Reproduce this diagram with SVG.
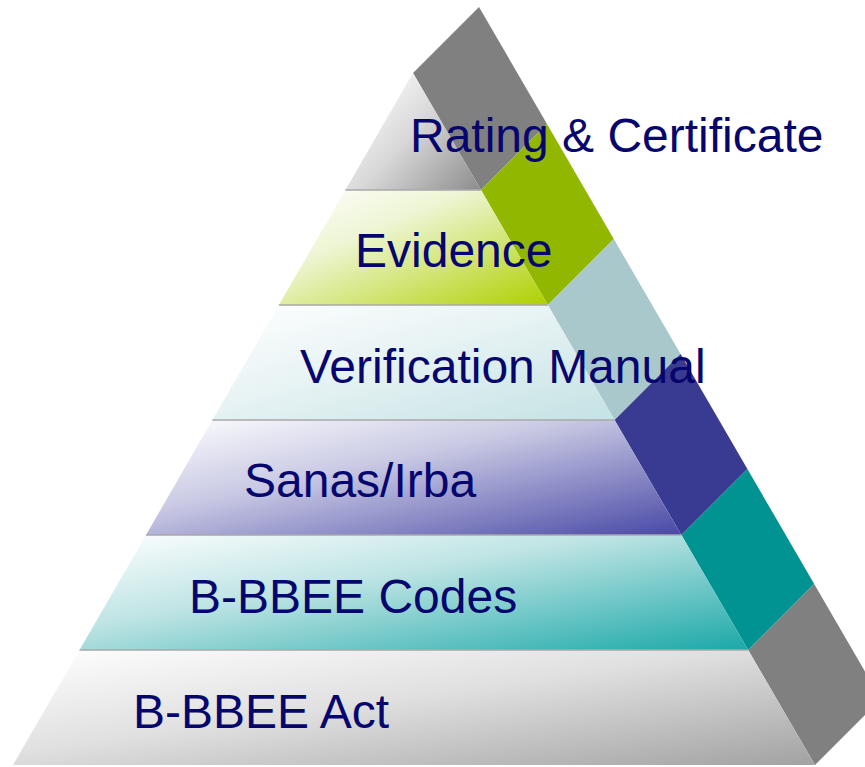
<svg xmlns="http://www.w3.org/2000/svg" width="865" height="767" viewBox="0 0 865 767">
<defs>
<style>
.lbl{font-family:"Liberation Sans",Arial,sans-serif;font-size:48px;fill:#06066e}
.sep{stroke:#a8a8a8;stroke-width:1.5;fill:none}
</style>
<linearGradient id="g1" x1="0" y1="0.2" x2="1" y2="1"><stop offset="0" stop-color="#ffffff"/><stop offset="0.45" stop-color="#d8d8d8"/><stop offset="1" stop-color="#8c8c8c"/></linearGradient>
<linearGradient id="g2" x1="0" y1="0" x2="1" y2="1"><stop offset="0" stop-color="#ffffff"/><stop offset="0.35" stop-color="#eef5d4"/><stop offset="1" stop-color="#aed000"/></linearGradient>
<linearGradient id="g3" x1="0" y1="0" x2="1" y2="1"><stop offset="0" stop-color="#ffffff"/><stop offset="0.4" stop-color="#eaf4f5"/><stop offset="1" stop-color="#c4e2e4"/></linearGradient>
<linearGradient id="g4" x1="0" y1="0" x2="1" y2="1"><stop offset="0" stop-color="#ffffff"/><stop offset="0.4" stop-color="#c9c9e4"/><stop offset="1" stop-color="#4848a6"/></linearGradient>
<linearGradient id="g5" x1="0" y1="0" x2="1" y2="1"><stop offset="0" stop-color="#ffffff"/><stop offset="0.4" stop-color="#bfe4e4"/><stop offset="1" stop-color="#1aa8a8"/></linearGradient>
<linearGradient id="g6" x1="0" y1="0" x2="1" y2="1"><stop offset="0" stop-color="#ffffff"/><stop offset="0.45" stop-color="#e0e0e0"/><stop offset="1" stop-color="#a2a2a2"/></linearGradient>
</defs>
<rect width="865" height="767" fill="#ffffff"/>
<g id="side">
<polygon points="413,73 479,7 547,124 481,190" fill="#808080"/>
<polygon points="481,190 547,124 613.8,239 547.8,305" fill="#92b700"/>
<polygon points="547.8,305 613.8,239 680.6,354 614.6,420" fill="#a9c8cb"/>
<polygon points="614.6,420 680.6,354 747.4,469 681.4,535" fill="#393a91"/>
<polygon points="681.4,535 747.4,469 814.2,584 748.2,650" fill="#009391"/>
<polygon points="748.2,650 814.2,584 881,699 815,765" fill="#808080"/>
</g>
<g id="layer-rating">
<polygon points="413,73 481,190 345.4,190" fill="url(#g1)"/>
</g>
<g id="layer-evidence">
<polygon points="345.4,190 481,190 547.8,305 278.9,305" fill="url(#g2)"/>
</g>
<g id="layer-verification">
<polygon points="278.9,305 547.8,305 614.6,420 212.4,420" fill="url(#g3)"/>
</g>
<g id="layer-sanas">
<polygon points="212.4,420 614.6,420 681.4,535 146,535" fill="url(#g4)"/>
</g>
<g id="layer-codes">
<polygon points="146,535 681.4,535 748.2,650 79.5,650" fill="url(#g5)"/>
</g>
<g id="layer-act">
<polygon points="79.5,650 748.2,650 815,765 13,765" fill="url(#g6)"/>
</g>
<g id="separators">
<line class="sep" x1="345.4" y1="190" x2="481" y2="190"/>
<line class="sep" x1="278.9" y1="305" x2="547.8" y2="305"/>
<line class="sep" x1="212.4" y1="420" x2="614.6" y2="420"/>
<line class="sep" x1="146" y1="535" x2="681.4" y2="535"/>
<line class="sep" x1="79.5" y1="650" x2="748.2" y2="650"/>
</g>
<g id="labels">
<text class="lbl" x="410" y="152">Rating &amp; Certificate</text>
<text class="lbl" x="355" y="267">Evidence</text>
<text class="lbl" x="300" y="383">Verification Manual</text>
<text class="lbl" x="244" y="497">Sanas/Irba</text>
<text class="lbl" x="189" y="613">B-BBEE Codes</text>
<text class="lbl" x="133" y="728">B-BBEE Act</text>
</g>
</svg>
